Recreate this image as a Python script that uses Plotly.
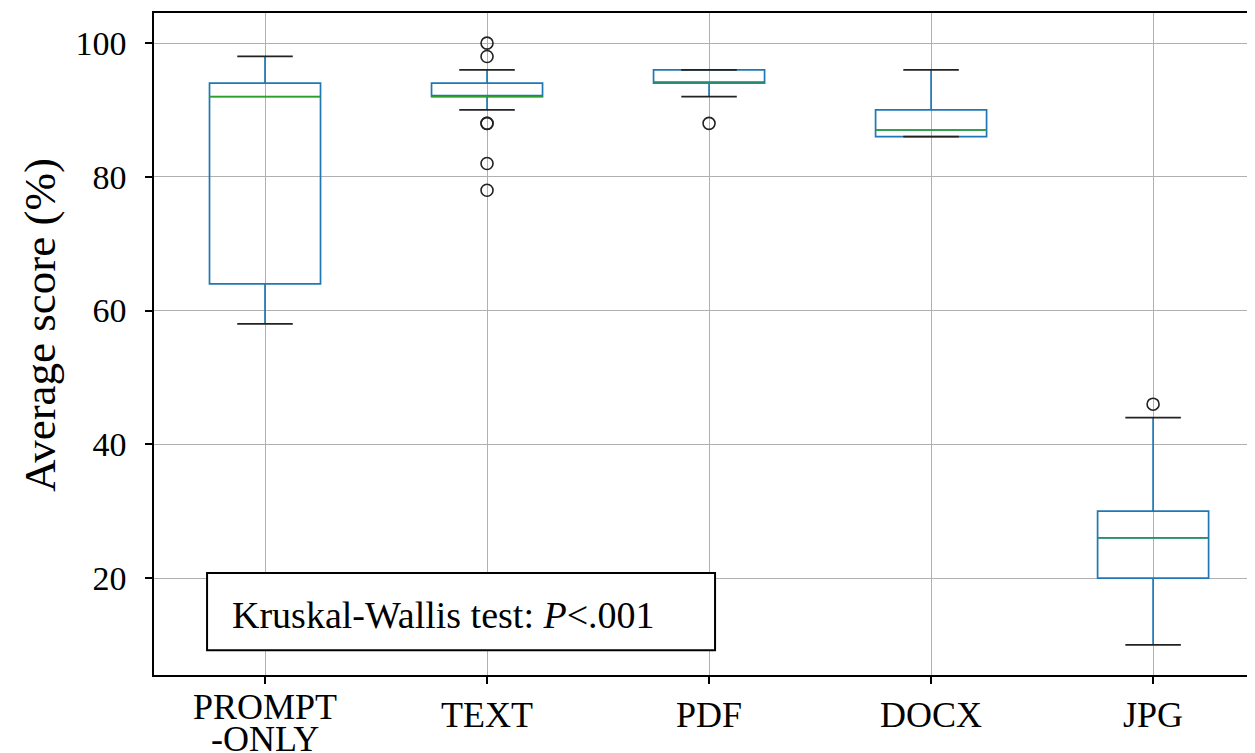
import plotly.graph_objects as go

# ---- data ----
categories = ["PROMPT-ONLY", "TEXT", "PDF", "DOCX", "JPG"]
tick_labels = ["", "TEXT", "PDF", "DOCX", "JPG"]
first_label_lines = ["PROMPT", "-ONLY"]
q1 = [64, 92, 94, 86, 20]
median = [92, 92, 94, 87, 26]
q3 = [94, 94, 96, 90, 30]
lower_whisker = [58, 90, 92, 86, 10]
upper_whisker = [98, 96, 96, 96, 44]
outliers = {
    "TEXT": [100, 98, 88, 88, 82, 78],
    "PDF": [88],
    "JPG": [46],
}
y_ticks = [20, 40, 60, 80, 100]
y_title = "Average score (%)"
annotation_text = "Kruskal-Wallis test: <i>P</i>&lt;.001"

BLUE = "#1f77b4"
GREEN = "#2ca02c"
FONT = "Liberation Serif, Times New Roman, serif"

positions = list(range(1, len(categories) + 1))
box_w = 0.5
cap_half = box_w / 4

fig = go.Figure()

fig.add_trace(go.Box(
    x=positions, q1=q1, median=median, q3=q3,
    lowerfence=lower_whisker, upperfence=upper_whisker,
    width=box_w, whiskerwidth=0, boxpoints=False,
    line=dict(color=BLUE, width=1.7),
    fillcolor="rgba(0,0,0,0)", showlegend=False, hoverinfo="skip",
))

# medians (green)
mx, my = [], []
for p, m in zip(positions, median):
    mx += [p - box_w / 2, p + box_w / 2, None]
    my += [m, m, None]
fig.add_trace(go.Scatter(x=mx, y=my, mode="lines", line=dict(color=GREEN, width=1.4),
                         showlegend=False, hoverinfo="skip"))

# caps (black)
cx, cy = [], []
for p, lo, hi in zip(positions, lower_whisker, upper_whisker):
    for v in (lo, hi):
        cx += [p - cap_half, p + cap_half, None]
        cy += [v, v, None]
fig.add_trace(go.Scatter(x=cx, y=cy, mode="lines", line=dict(color="#222222", width=1.7),
                         showlegend=False, hoverinfo="skip"))

# outliers
ox, oy = [], []
for cat, vals in outliers.items():
    p = positions[categories.index(cat)]
    ox += [p] * len(vals)
    oy += vals
fig.add_trace(go.Scatter(x=ox, y=oy, mode="markers",
                         marker=dict(symbol="circle-open", size=12, color="#222222",
                                     line=dict(width=1.6, color="#222222")),
                         showlegend=False, hoverinfo="skip"))

# annotation box
fig.add_shape(type="rect", xref="x", yref="y", x0=0.739, x1=3.027, y0=9.21, y1=20.75,
              line=dict(color="black", width=2), fillcolor="white", layer="above")
fig.add_annotation(x=0.842, y=14.5, xref="x", yref="y", text=annotation_text,
                   showarrow=False, xanchor="left", yanchor="middle",
                   font=dict(family=FONT, size=38, color="black"))

# two-line first tick label
for line, shift in zip(first_label_lines, (-10, -42)):
    fig.add_annotation(x=positions[0], y=0, xref="x", yref="paper", text=line,
                       showarrow=False, xanchor="center", yanchor="top", yshift=shift,
                       font=dict(family=FONT, size=36, color="black"))

# y-axis title
fig.add_annotation(x=0, y=0.5287, xref="paper", yref="paper", text=y_title,
                   textangle=-90, showarrow=False, xanchor="center", yanchor="middle",
                   xshift=-114, font=dict(family=FONT, size=45, color="black"))

fig.update_layout(
    width=1247, height=745,
    margin=dict(l=146, r=0, t=5, b=78),
    paper_bgcolor="white", plot_bgcolor="white",
    font=dict(family=FONT, color="black"),
    xaxis=dict(
        range=[0.5, 5.459], tickmode="array", tickvals=positions, ticktext=tick_labels,
        tickfont=dict(size=36, family=FONT), ticks="outside", ticklen=7, tickwidth=1.5,
        tickcolor="black", showline=True, linecolor="black", linewidth=1.5, mirror=True,
        showgrid=True, gridcolor="#b0b0b0", gridwidth=1, zeroline=False,
    ),
    yaxis=dict(
        range=[5.5, 104.5], tickmode="array", tickvals=y_ticks,
        tickfont=dict(size=34, family=FONT), ticks="outside", ticklen=7, tickwidth=1.5,
        tickcolor="black", showline=True, linecolor="black", linewidth=1.5,
        showgrid=True, gridcolor="#b0b0b0", gridwidth=1, zeroline=False,
        ticklabelstandoff=12,
    ),
)

fig.write_html("out.html")
